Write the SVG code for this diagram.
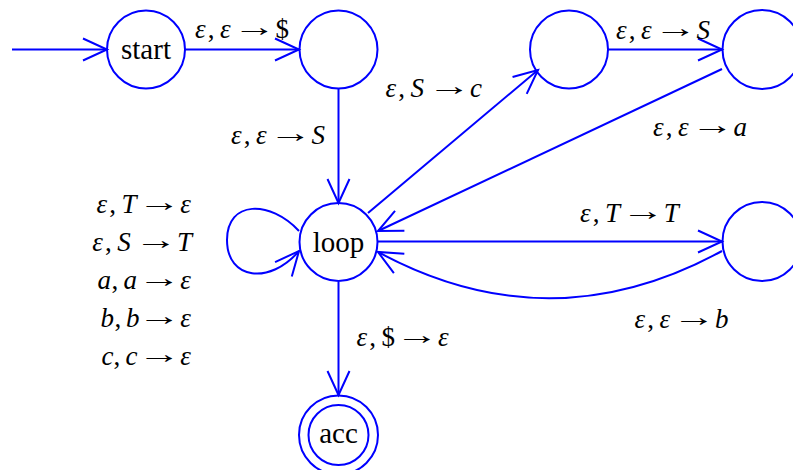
<svg xmlns="http://www.w3.org/2000/svg" width="793" height="470" viewBox="0 0 793 470">
  <style>
    .st { fill: none; stroke: #0000ff; stroke-width: 2; }
    .ed { fill: none; stroke: #0000ff; stroke-width: 2; marker-end: url(#arr); }
    text { font-family: "Liberation Serif", "Times New Roman", Tinos, "Noto Serif", "DejaVu Serif", serif; fill: #000; }
    .nm { font-size: 29px; text-anchor: middle; }
    .lb { font-size: 27px; font-style: italic; }
    .r { font-style: normal; }
    .aw { font-size: 27px; text-anchor: middle; }
  </style>
  <defs>
    <marker id="arr" markerUnits="userSpaceOnUse" markerWidth="30" markerHeight="30" refX="0" refY="0" orient="auto" overflow="visible">
      <path d="M-24,-11 L0,0 L-24,11" fill="none" stroke="#0000ff" stroke-width="2"/>
    </marker>
  </defs>
  <rect width="793" height="470" fill="#ffffff"/>

  <!-- transitions -->
  <g id="edges">
    <path class="ed" d="M12,49.5 L107,49.5"/>
    <path class="ed" d="M185,49.5 L299,49.5"/>
    <path class="ed" d="M338.5,89 L338.5,203"/>
    <path class="ed" d="M608,49.5 L722,49.5"/>
    <path class="ed" d="M368,213 L538,70"/>
    <path class="ed" d="M722,69 L378,231"/>
    <path class="ed" d="M378,241.5 L722,241.5"/>
    <path class="ed" d="M722,251 Q550,345 378,252"/>
    <path class="ed" d="M299,231 C270,200 227,200 227,240 C227,280 270,285 299,251"/>
    <path class="ed" d="M338.5,282 L338.5,395"/>
  </g>

  <!-- states -->
  <g id="start">
    <circle class="st" cx="146" cy="49.5" r="39"/>
    <text class="nm" x="146" y="59">start</text>
  </g>
  <g id="q1">
    <circle class="st" cx="338.5" cy="49.5" r="39"/>
  </g>
  <g id="q2">
    <circle class="st" cx="569" cy="49.5" r="39"/>
  </g>
  <g id="q3">
    <circle class="st" cx="762" cy="49.5" r="39.5"/>
  </g>
  <g id="loop">
    <circle class="st" cx="338.5" cy="242" r="39"/>
    <text class="nm" x="338.5" y="252">loop</text>
  </g>
  <g id="q4">
    <circle class="st" cx="762" cy="241.5" r="39.5"/>
  </g>
  <g id="acc">
    <circle class="st" cx="338.5" cy="435" r="39.5"/>
    <circle class="st" cx="338.5" cy="435" r="30"/>
    <text class="nm" x="338.5" y="443">acc</text>
  </g>

  <!-- transition labels: "x, y" part, widened arrow, result symbol -->
  <g id="labels">
    <g>
      <text class="lb" y="38"><tspan x="195">ε</tspan><tspan class="r" x="207.8">,</tspan><tspan x="220">ε</tspan></text>
      <text class="aw" transform="translate(254.2,35.6) scale(1.6,1)">→</text>
      <text class="lb r" x="275.5" y="38">$</text>
    </g>
    <g>
      <text class="lb" y="39"><tspan x="616">ε</tspan><tspan class="r" x="628.8">,</tspan><tspan x="641">ε</tspan></text>
      <text class="aw" transform="translate(675.2,36.6) scale(1.6,1)">→</text>
      <text class="lb" x="696.5" y="39">S</text>
    </g>
    <g>
      <text class="lb" y="97"><tspan x="385.5">ε</tspan><tspan class="r" x="398.3">,</tspan><tspan x="410.5">S</tspan></text>
      <text class="aw" transform="translate(448.8,94.6) scale(1.6,1)">→</text>
      <text class="lb" x="470.1" y="97">c</text>
    </g>
    <g>
      <text class="lb" y="144"><tspan x="231">ε</tspan><tspan class="r" x="243.8">,</tspan><tspan x="256">ε</tspan></text>
      <text class="aw" transform="translate(290.2,141.6) scale(1.6,1)">→</text>
      <text class="lb" x="311.5" y="144">S</text>
    </g>
    <g>
      <text class="lb" y="136"><tspan x="653">ε</tspan><tspan class="r" x="665.8">,</tspan><tspan x="678">ε</tspan></text>
      <text class="aw" transform="translate(712.2,133.6) scale(1.6,1)">→</text>
      <text class="lb" x="733.5" y="136">a</text>
    </g>
    <g>
      <text class="lb" y="222"><tspan x="580">ε</tspan><tspan class="r" x="592.8">,</tspan><tspan x="605">T</tspan></text>
      <text class="aw" transform="translate(642.5,219.6) scale(1.6,1)">→</text>
      <text class="lb" x="663.8" y="222">T</text>
    </g>
    <g>
      <text class="lb" y="328"><tspan x="634.5">ε</tspan><tspan class="r" x="647.3">,</tspan><tspan x="659.5">ε</tspan></text>
      <text class="aw" transform="translate(693.7,325.6) scale(1.6,1)">→</text>
      <text class="lb" x="715" y="328">b</text>
    </g>
    <g>
      <text class="lb" y="346"><tspan x="356.5">ε</tspan><tspan class="r" x="369.3">,</tspan><tspan class="r" x="381.5">$</tspan></text>
      <text class="aw" transform="translate(416.7,343.6) scale(1.6,1)">→</text>
      <text class="lb" x="438" y="346">ε</text>
    </g>
    <!-- self-loop labels -->
    <g>
      <text class="lb" y="213"><tspan x="96.4">ε</tspan><tspan class="r" x="109.2">,</tspan><tspan x="121.4">T</tspan></text>
      <text class="aw" transform="translate(158.9,210.6) scale(1.6,1)">→</text>
      <text class="lb" x="180.2" y="213">ε</text>
    </g>
    <g>
      <text class="lb" y="251"><tspan x="92.3">ε</tspan><tspan class="r" x="105.1">,</tspan><tspan x="117.3">S</tspan></text>
      <text class="aw" transform="translate(155.6,248.6) scale(1.6,1)">→</text>
      <text class="lb" x="176.9" y="251">T</text>
    </g>
    <g>
      <text class="lb" y="289"><tspan x="97.5">a</tspan><tspan class="r" x="111.5">,</tspan><tspan x="123.5">a</tspan></text>
      <text class="aw" transform="translate(158.9,286.6) scale(1.6,1)">→</text>
      <text class="lb" x="180.2" y="289">ε</text>
    </g>
    <g>
      <text class="lb" y="327"><tspan x="100.5">b</tspan><tspan class="r" x="114.5">,</tspan><tspan x="126">b</tspan></text>
      <text class="aw" transform="translate(158.9,324.6) scale(1.6,1)">→</text>
      <text class="lb" x="180.2" y="327">ε</text>
    </g>
    <g>
      <text class="lb" y="365"><tspan x="101.5">c</tspan><tspan class="r" x="113.4">,</tspan><tspan x="125.6">c</tspan></text>
      <text class="aw" transform="translate(158.9,362.6) scale(1.6,1)">→</text>
      <text class="lb" x="180.2" y="365">ε</text>
    </g>
  </g>
</svg>
